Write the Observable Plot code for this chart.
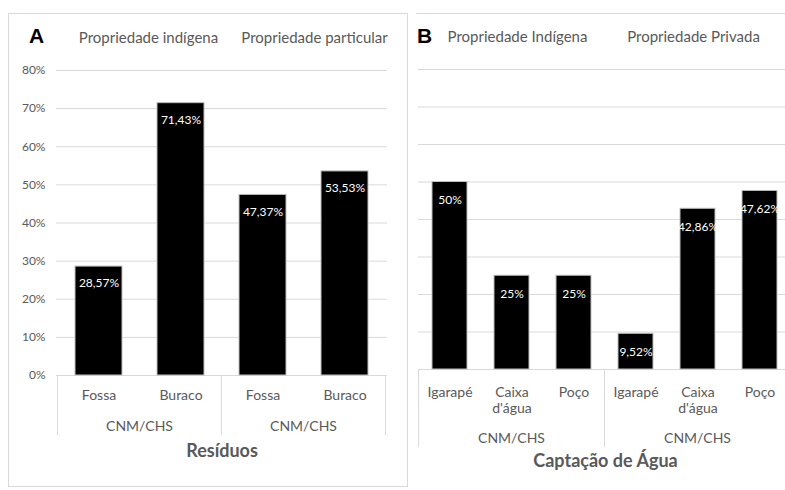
<!DOCTYPE html>
<html><head><meta charset="utf-8">
<script src="https://cdn.jsdelivr.net/npm/d3@7"></script>
<script src="https://cdn.jsdelivr.net/npm/@observablehq/plot@0.6"></script>
<style>
html,body{margin:0;padding:0;background:#fff}
body{width:785px;height:490px;overflow:hidden;position:relative;font-family:Lato,sans-serif}
#boxA{position:absolute;left:8px;top:13px;width:400px;height:474px;border:1px solid #d9d9d9;box-sizing:border-box}
#boxB{position:absolute;left:416px;top:13px;width:400px;height:474px;border-top:1px solid #d9d9d9;box-sizing:border-box}
.tag{position:absolute;font-family:"Liberation Sans",Arial,sans-serif;font-weight:bold;font-size:21px;line-height:1;color:#000}
#chartA{position:absolute;left:0;top:0;width:410px}
#chartB{position:absolute;left:410px;top:0;width:385px}
</style>
</head><body>
<div id="boxA"></div><div id="boxB"></div>
<div id="chartA"></div><div id="chartB"></div>
<div class="tag" style="left:29px;top:25px">A</div>
<div class="tag" style="left:417px;top:25px">B</div>
<script>
// ---- data ----
const gruposA = ["Propriedade indígena", "Propriedade particular"];
const categoriasA = ["Fossa", "Buraco"];
const valoresA = [28.57, 71.43, 47.37, 53.53];
const gruposB = ["Propriedade Indígena", "Propriedade Privada"];
const categoriasB = ["Igarapé", "Caixa\nd'água", "Poço"];
const valoresB = [50, 25, 25, 9.52, 42.86, 47.62];
const nivel2 = "CNM/CHS";
const yTicks = [0, 10, 20, 30, 40, 50, 60, 70, 80];
const titulos = ["Resíduos", "Captação de Água"];

const fmtPct = v => (Number.isInteger(v) ? String(v) : v.toFixed(2).replace(".", ",")) + "%";

function buildRows(grupos, cats, vals) {
  const rows = [];
  grupos.forEach((g, gi) => cats.forEach((c, ci) => {
    rows.push({grupo: g, cat: c, key: g + "|" + c, v: vals[gi * cats.length + ci]});
  }));
  return rows;
}

// decoration: group headers, second-level labels and separators computed from the x band scale
function groupDecor(grupos, rows, o) {
  return (index, scales, values, dims) => {
    const x = scales.x;
    const domain = rows.map(r => r.key);
    const plotW = dims.width - dims.marginLeft - dims.marginRight;
    const step = x.step ? x.step() : plotW / domain.length;
    const bw = x.bandwidth ? x.bandwidth() : step * 0.57;
    const base = dims.height - dims.marginBottom;
    const g = d3.create("svg:g");
    const edges = new Set();
    grupos.forEach((name, gi) => {
      const ks = rows.filter(r => r.grupo === name).map(r => r.key);
      const left = x(ks[0]) + bw / 2 - step / 2;
      const right = x(ks[ks.length - 1]) + bw / 2 + step / 2;
      edges.add(Math.round(left * 2) / 2); edges.add(Math.round(right * 2) / 2);
      const cx = (left + right) / 2;
      g.append("text").attr("x", cx + o.headerDx[gi]).attr("y", dims.marginTop - o.header)
        .attr("text-anchor", "middle").attr("dy", "0.35em")
        .attr("fill", "#595959").attr("font-size", 15).text(name);
      g.append("text").attr("x", cx).attr("y", base + o.level2)
        .attr("text-anchor", "middle").attr("dy", "0.35em")
        .attr("fill", "#595959").attr("font-size", 14).text(nivel2);
    });
    for (const e of edges) {
      g.append("line").attr("x1", e).attr("x2", e).attr("y1", base).attr("y2", base + o.sep)
        .attr("stroke", "#d9d9d9").attr("stroke-width", 1);
    }
    return g.node();
  };
}

function panel(grupos, cats, vals, cfg) {
  const rows = buildRows(grupos, cats, vals);
  return Plot.plot({
    width: cfg.width, height: 490,
    marginLeft: cfg.ml, marginRight: cfg.mr, marginTop: cfg.mt, marginBottom: cfg.mb,
    style: {fontFamily: "Lato, sans-serif", color: "#595959", background: "transparent", overflow: "visible", maxWidth: "none"},
    x: {domain: rows.map(r => r.key), paddingInner: 0.43, paddingOuter: 0.215},
    y: {domain: [0, 80], axis: null},
    marks: [
      Plot.gridY(yTicks, {stroke: "#d9d9d9", strokeOpacity: 1, strokeWidth: 1}),
      cfg.yAxis ? Plot.axisY(yTicks, {tickSize: 0, tickPadding: 11, tickFormat: d => d + "%", fontSize: 12, label: null}) : null,
      Plot.barY(rows, {x: "key", y: "v", fill: "black", stroke: "#bfbfbf", strokeWidth: 1}),
      Plot.text(rows, {x: "key", y: "v", text: d => fmtPct(d.v), dy: cfg.labelDy, fill: "white", fontSize: 12}),
      Plot.axisX({tickSize: 0, tickPadding: cfg.tickPad, tickFormat: k => k.split("|")[1], fontSize: 14, lineHeight: 1.15, label: null}),
      groupDecor(grupos, rows, cfg.decor),
      Plot.text([cfg.title], {text: d => d, frameAnchor: "bottom", dy: cfg.titleDy, fontWeight: "bold", fontSize: 18, fill: "#595959"})
    ]
  });
}

document.getElementById("chartA").append(panel(gruposA, categoriasA, valoresA, {
  width: 410, ml: 56, mr: 23, mt: 70, mb: 115, yAxis: true, labelDy: 17, tickPad: 13,
  title: titulos[0], titleDy: 81, decor: {header: 32, level2: 51, sep: 60, headerDx: [9, 11]}
}));
document.getElementById("chartB").append(panel(gruposB, categoriasB, valoresB, {
  width: 385, ml: 8, mr: 3, mt: 69, mb: 121, yAxis: false, labelDy: 18, tickPad: 16,
  title: titulos[1], titleDy: 97, decor: {header: 32, level2: 69, sep: 78, headerDx: [6, -4]}
}));
</script>
</body></html>
